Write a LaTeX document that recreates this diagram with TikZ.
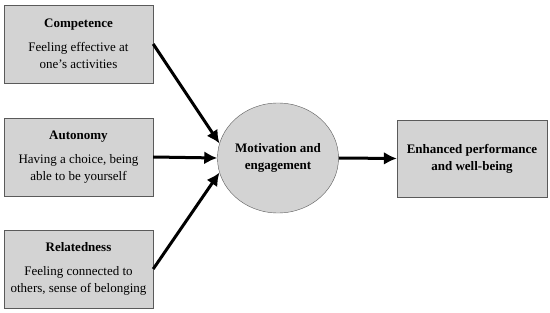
\documentclass[tikz,border=0pt]{standalone}
\usepackage{fontspec}
\setmainfont{Liberation Serif}
\usetikzlibrary{arrows.meta,shapes.geometric}

\begin{document}
\begin{tikzpicture}[x=1pt,y=-1pt,font=\fontsize{13}{17}\selectfont,
  need/.style={draw={rgb,255:red,90;green,90;blue,90},fill={rgb,255:red,211;green,211;blue,211},minimum width=149pt,minimum height=78pt,align=center,inner sep=0pt},
  link/.style={line width=3pt,-{Latex[length=13pt,width=13pt]}}]
\useasboundingbox (0,0) rectangle (550,313);
\node[need] (comp) at (78.5,44) {\textbf{Competence}\\[7pt]Feeling effective at\\one’s activities};
\node[need] (auto) at (78.5,157) {\textbf{Autonomy}\\[7pt]Having a choice, being\\able to be yourself};
\node[need] (rel) at (78.5,269) {\textbf{Relatedness}\\[7pt]Feeling connected to\\others, sense of belonging};
\node[draw={rgb,255:red,90;green,90;blue,90},fill={rgb,255:red,211;green,211;blue,211},ellipse,inner sep=0pt,minimum width=120pt,minimum height=110pt,align=center,font=\fontsize{13}{17}\selectfont\bfseries] (mot) at (278,158) {Motivation and\\engagement};
\node[need,minimum width=150pt,minimum height=77pt,font=\fontsize{13}{17}\selectfont\bfseries] (out) at (472,158.5) {Enhanced performance\\and well-being};
% arrows into and out of the circle
\draw[link] (comp.east) -- (mot.166);
\draw[link] (auto.east) -- (mot.west);
\draw[link] (rel.east) -- (mot.194);
\draw[link] (mot.east) -- (out.west);
\end{tikzpicture}
\end{document}
